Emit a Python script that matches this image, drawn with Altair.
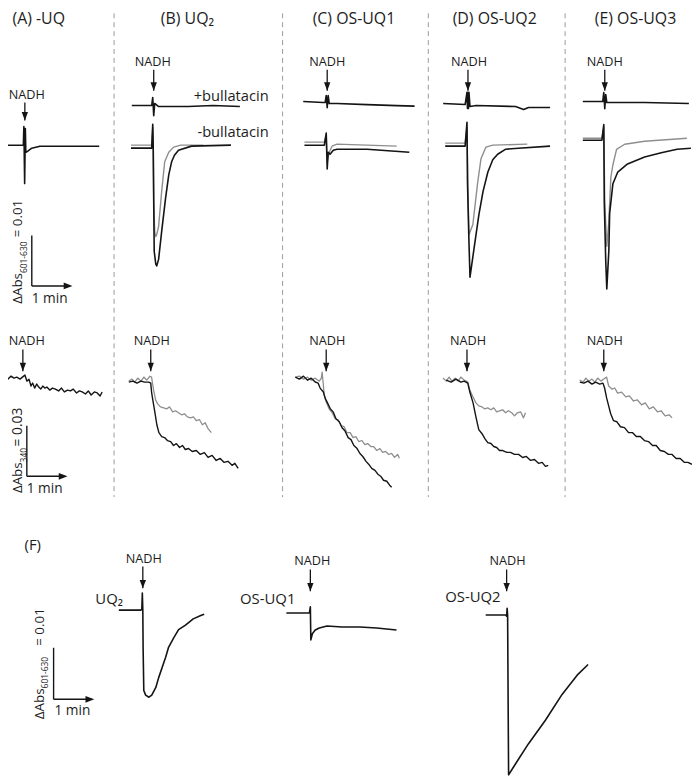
import altair as alt
import pandas as pd

# ------------------------------------------------------------------
# Kinetic traces.  t = time after NADH addition (min),
# v = change in absorbance (mAbs) relative to the pre-NADH baseline.
# ------------------------------------------------------------------
# Top row: dAbs(601-630)
A_top_t = [-0.61, -0.037, -0.024, -0.005, 0.012, 0.024, 0.073, 0.17, 0.37, 0.85, 1.83]
A_top_v = [0, 0, 3.7, -7.6, 3.3, -1.4, -1.2, -0.6, -0.2, -0.2, -0.2]

B_plus_t = [-0.54, -0.05, -0.024, 0.0, 0.024, 0.12, 0.85, 1.46, 2.12]
B_plus_v = [0, 0, 1.6, -2.0, 0.4, -0.2, -0.2, 0, -0.2]
B_minus_black_t = [-0.56, -0.05, -0.024, -0.012, 0.0, 0.012, 0.05, 0.073, 0.12, 0.195, 0.29, 0.37, 0.44, 0.51, 0.61, 0.93, 1.9]
B_minus_black_v = [0, 0, 4.7, 0, -10.6, -20.4, -22.9, -23.3, -22.0, -16.5, -10.0, -5.3, -2.7, -1.4, -0.4, 0.4, 0.6]
B_minus_gray_t = [-0.56, -0.05, -0.024, -0.012, 0.0, 0.024, 0.05, 0.073, 0.12, 0.195, 0.27, 0.37, 0.49, 0.66, 1.22]
B_minus_gray_v = [0.6, 0.6, 4.1, 0.6, -10.6, -16.5, -17.5, -17.1, -15.5, -8.6, -2.7, -0.8, 0.2, 0.6, 0.6]

C_plus_t = [-0.59, -0.1, -0.05, -0.024, 0.0, 0.024, 0.05, 0.24, 0.98, 1.71, 2.15]
C_plus_v = [0, -0.2, -0.2, 1.2, -1.2, 1.2, -0.4, -0.4, -0.6, -0.8, -0.9]
C_minus_black_t = [-0.56, -0.07, -0.024, 0.0, 0.024, 0.07, 0.15, 0.24, 0.98, 2.02]
C_minus_black_v = [0, 0, 2.4, -4.7, -1.4, -1.8, -1.0, -0.8, -0.8, -1.4]
C_minus_gray_t = [-0.56, -0.07, -0.024, 0.0, 0.05, 0.12, 0.24, 0.98, 1.71]
C_minus_gray_v = [0.6, 0.6, 2.0, -3.3, -1.4, -0.2, 0.2, 0, -0.2]

D_plus_t = [-0.61, -0.07, -0.024, -0.012, 0.0, 0.012, 0.024, 0.05, 0.2, 1.17, 1.37, 1.49, 2.02]
D_plus_v = [0.2, 0, 2.4, -0.8, 2.4, -0.8, 2.4, -0.4, -0.2, -0.4, -1.0, -0.6, -0.6]
D_minus_black_t = [-0.56, -0.07, -0.024, -0.012, 0.024, 0.05, 0.15, 0.27, 0.37, 0.49, 0.61, 0.73, 0.93, 1.24, 2.02]
D_minus_black_v = [0, 0, 4.7, -7.1, -18.8, -25.9, -20.2, -13.5, -9.0, -5.1, -2.7, -1.6, -0.6, -0.4, 0]
D_minus_gray_t = [-0.56, -0.07, -0.024, 0.0, 0.024, 0.12, 0.24, 0.32, 0.44, 0.61, 1.46]
D_minus_gray_v = [0.6, 0.6, 3.7, -9.0, -17.5, -15.5, -7.1, -2.5, -0.2, 0.2, 0.4]

E_plus_t = [-0.54, -0.05, -0.024, 0.0, 0.024, 0.05, 0.24, 0.98, 2.07]
E_plus_v = [0, 0, 1.8, -1.4, 1.4, -0.2, -0.2, -0.2, -0.4]
E_minus_black_t = [-0.54, -0.07, -0.024, -0.012, 0.024, 0.05, 0.1, 0.12, 0.2, 0.32, 0.56, 0.98, 1.39, 1.78, 2.12]
E_minus_black_v = [0, 0, 3.1, -12.2, -23.9, -29.4, -21.9, -14.5, -8.6, -6.3, -4.7, -3.3, -2.5, -1.8, -1.6]
E_minus_gray_t = [-0.54, -0.07, -0.024, 0.0, 0.05, 0.1, 0.15, 0.2, 0.29, 0.49, 0.98, 2.02]
E_minus_gray_v = [0.4, 0.4, 2.7, -12.2, -21.0, -16.1, -7.3, -4.9, -1.8, -0.8, -0.2, 0.4]

# Middle row: dAbs(340)
A_bot_t = [-0.51, -0.44, -0.37, -0.29, -0.22, -0.15, -0.07, 0.05, 0.1, 0.15, 0.2, 0.24, 0.29, 0.34, 0.39, 0.44,
           0.49, 0.54, 0.59, 0.66, 0.73, 0.8, 0.88, 0.95, 1.02, 1.1, 1.17, 1.24, 1.32, 1.39, 1.46, 1.54, 1.61,
           1.68, 1.76, 1.83, 1.9, 1.95]
A_bot_v = [0, 0.6, -0.6, 1.2, 0, 0.6, -0.6, 1.8, -1.8, -0.6, -4.7, -2.9, -5.9, -3.5, -5.3, -6.5,
           -4.7, -5.9, -5.3, -7.1, -5.9, -6.5, -7.6, -5.9, -8.2, -7.1, -7.6, -6.5, -8.8, -7.6, -8.2, -9.4, -7.6,
           -10.0, -8.2, -8.8, -10.6, -8.2]

B_bot_gray_t = [-0.54, -0.46, -0.39, -0.32, -0.24, -0.17, -0.1, -0.02, 0.02, 0.07, 0.12, 0.17, 0.24, 0.32, 0.39,
                0.46, 0.54, 0.61, 0.68, 0.76, 0.83, 0.9, 0.98, 1.05, 1.12, 1.2, 1.27, 1.34, 1.41, 1.49]
B_bot_gray_v = [0, 1.2, -0.6, 1.8, 0, 2.4, 0.6, 2.9, 2.4, -5.3, -11.2, -13.5, -15.3, -15.9, -16.5,
                -15.3, -18.2, -17.6, -18.8, -20.0, -19.4, -21.2, -21.8, -21.2, -23.5, -22.9, -25.9, -24.7, -28.2, -30.6]
B_bot_black_t = [-0.54, -0.44, -0.34, -0.24, -0.15, -0.05, 0, 0.02, 0.05, 0.1, 0.15, 0.2, 0.27, 0.34, 0.41, 0.49,
                 0.56, 0.63, 0.71, 0.78, 0.85, 0.93, 1.02, 1.12, 1.22, 1.32, 1.41, 1.51, 1.61, 1.71, 1.8, 1.9, 2.0, 2.07, 2.15]
B_bot_black_v = [-0.6, 0, -1.2, 0, -0.6, -0.6, -1.2, -6.5, -11.2, -18.2, -25.9, -30.6, -32.9, -33.5, -35.3, -35.9,
                 -38.2, -37.1, -39.4, -38.2, -40.6, -40.0, -41.8, -41.2, -43.5, -42.4, -45.3, -44.1, -47.1, -45.9,
                 -48.2, -47.6, -50.0, -48.8, -51.8]

C_bot_black_t = [-0.76, -0.66, -0.56, -0.46, -0.37, -0.27, -0.2, -0.15, -0.07, -0.02, 0.02, 0.1, 0.17, 0.24, 0.32,
                 0.39, 0.46, 0.54, 0.61, 0.68, 0.76, 0.83, 0.9, 0.98, 1.05, 1.12, 1.2, 1.27, 1.34, 1.41, 1.49, 1.56, 1.61]
C_bot_black_v = [0, -1.2, 0.6, -1.8, -0.6, -2.9, -3.5, -6.5, -8.8, -12.9, -14.7, -18.8, -20.6, -24.7, -26.5,
                 -30.0, -31.8, -35.9, -37.1, -40.6, -42.4, -45.3, -47.1, -50.0, -51.8, -54.1, -55.3, -57.6, -58.8,
                 -61.2, -61.8, -64.1, -65.3]
C_bot_gray_t = [-0.76, -0.66, -0.56, -0.46, -0.37, -0.27, -0.17, -0.12, -0.1, -0.07, -0.05, 0, 0.07, 0.15, 0.22,
                0.29, 0.37, 0.44, 0.51, 0.59, 0.66, 0.73, 0.8, 0.88, 0.95, 1.02, 1.1, 1.17, 1.24, 1.32, 1.39, 1.46,
                1.54, 1.61, 1.68, 1.76, 1.8]
C_bot_gray_v = [0, 0.6, -1.2, 0, -1.8, -0.6, -2.4, -0.6, 2.9, -4.7, -10.6, -14.7, -18.8, -21.2, -24.7,
                -25.3, -28.8, -29.4, -32.9, -32.9, -35.9, -35.3, -38.2, -37.6, -40.0, -39.4, -41.2, -41.2, -43.5,
                -42.4, -44.7, -44.1, -45.9, -45.3, -47.6, -45.9, -48.2]

D_bot_gray_t = [-0.59, -0.51, -0.44, -0.37, -0.29, -0.22, -0.15, -0.07, 0.02, 0.07, 0.15, 0.22, 0.29, 0.37, 0.44,
                0.51, 0.59, 0.66, 0.73, 0.8, 0.88, 0.95, 1.02, 1.1, 1.17, 1.24, 1.32, 1.39, 1.44]
D_bot_gray_v = [1.2, -0.6, 1.8, -0.6, 1.2, -0.6, 1.8, 0, -1.2, -5.9, -10.0, -13.5, -15.3, -15.9, -17.1,
                -16.5, -17.6, -16.5, -18.8, -18.2, -17.6, -19.4, -18.2, -19.4, -21.2, -19.4, -18.8, -22.4, -19.4]
D_bot_black_t = [-0.51, -0.39, -0.27, -0.15, -0.07, 0.02, 0.07, 0.15, 0.22, 0.29, 0.37, 0.44, 0.51, 0.59, 0.66,
                 0.73, 0.8, 0.88, 0.98, 1.07, 1.17, 1.27, 1.37, 1.46, 1.56, 1.66, 1.76, 1.85, 1.93, 2.0]
D_bot_black_v = [0, -1.2, 0.6, -1.2, -0.6, -1.8, -7.1, -13.5, -21.8, -29.4, -31.8, -34.7, -37.1, -37.6, -39.4,
                 -40.0, -41.8, -41.8, -42.9, -42.9, -44.1, -44.1, -45.9, -45.3, -47.6, -47.1, -49.4, -48.8, -51.2, -50.6]

E_bot_gray_t = [-0.59, -0.51, -0.44, -0.37, -0.29, -0.22, -0.15, -0.07, 0, 0.07, 0.12, 0.2, 0.27, 0.34, 0.44,
                0.54, 0.63, 0.73, 0.83, 0.93, 1.02, 1.12, 1.22, 1.32, 1.41, 1.51, 1.61, 1.68]
E_bot_gray_v = [0.6, -0.6, 1.8, 0, 1.2, -0.6, 1.8, 0, 1.2, 2.4, -2.9, -4.7, -4.1, -7.1, -6.5,
                -9.4, -8.8, -11.8, -11.2, -14.1, -12.9, -16.5, -15.3, -18.2, -17.6, -20.6, -20.0, -21.8]
E_bot_black_t = [-0.59, -0.49, -0.39, -0.29, -0.2, -0.1, -0.02, 0.02, 0.07, 0.12, 0.17, 0.24, 0.32, 0.41, 0.51,
                 0.61, 0.71, 0.8, 0.9, 1.0, 1.1, 1.2, 1.29, 1.39, 1.49, 1.59, 1.68, 1.78, 1.88, 1.98, 2.07, 2.17]
E_bot_black_v = [-0.6, -1.2, 0, -1.8, -0.6, -1.8, -1.2, -4.1, -10.0, -14.7, -19.4, -23.5, -24.1, -27.1, -27.6,
                 -30.6, -30.6, -32.9, -32.9, -35.3, -35.9, -38.2, -38.2, -41.2, -41.8, -43.5, -43.5, -45.9, -45.9,
                 -48.2, -48.2, -49.4]

# Panel F: dAbs(601-630), single traces
F_UQ2_t = [-0.59, -0.05, -0.024, -0.012, 0, 0.007, 0.024, 0.07, 0.15, 0.22, 0.32, 0.39, 0.49, 0.56, 0.63,
           0.76, 0.88, 1.05, 1.24, 1.44, 1.51]
F_UQ2_v = [0, 0, 0.2, 3.3, 0, -7.3, -15.6, -16.5, -16.9, -16.5, -15.0, -13.1, -10.8, -9.2, -7.3,
           -5.4, -3.8, -2.9, -1.7, -1.0, -0.8]
F_OSUQ1_t = [-0.59, -0.024, 0, 0.012, 0.05, 0.12, 0.22, 0.41, 0.78, 1.22, 1.63, 2.12]
F_OSUQ1_v = [0, 0, 1.2, -5.2, -4.0, -3.3, -2.9, -2.5, -2.7, -2.7, -2.9, -3.3]
F_OSUQ2_t = [-0.54, -0.05, -0.024, -0.012, 0, 0.012, 0.024, 0.2, 0.51, 0.93, 1.34, 1.73, 1.98]
F_OSUQ2_v = [0, 0, -0.2, 1.3, 0, -16.0, -31.0, -28.8, -25.0, -20.4, -15.4, -11.5, -9.6]

# ------------------------------------------------------------------
# Texts
# ------------------------------------------------------------------
HEADERS = ["(A) -UQ", "(B) UQ\u2082", "(C) OS-UQ1", "(D) OS-UQ2", "(E) OS-UQ3"]
F_LABELS = ["(F)", "UQ\u2082", "OS-UQ1", "OS-UQ2"]
BULL_LABELS = ["+bullatacin", "-bullatacin"]
SCALE_LABEL_PARTS = ["\u0394Abs", "601-630", "= 0.01", "\u0394Abs", "340", "= 0.03", "\u0394Abs", "601-630", "= 0.01"]

# ------------------------------------------------------------------
# Figure layout (page pixels)
# ------------------------------------------------------------------
X0, X1, Y0, Y1 = 8, 698, 8, 777
PX_PER_MIN = 41
PX_PER_MABS = {"top": 5.1, "bot": 1.7, "F": 5.2}
BLACK, GRAY, INK = "#141414", "#8e8e8e", "#1c1c1c"
FONT = "Open Sans"

ANCHOR = {  # (x of NADH addition, y of baseline)
    "A_top": (25, 143), "B_plus": (155, 103), "B_minus": (155, 146),
    "C_plus": (330, 99), "C_minus": (330, 143), "D_plus": (472, 102), "D_minus": (472, 144),
    "E_plus": (610, 99), "E_minus": (610, 138),
    "A_bot": (23, 378), "B_bot": (152, 381), "C_bot": (329, 377), "D_bot": (471, 380), "E_bot": (609, 381),
    "F1": (144, 612), "F2": (313, 615), "F3": (512, 617),
}

TRACES = [
    ("A_top", "top", "A_top", BLACK, A_top_t, A_top_v),
    ("B_plus", "top", "B_plus", BLACK, B_plus_t, B_plus_v),
    ("B_mg", "top", "B_minus", GRAY, B_minus_gray_t, B_minus_gray_v),
    ("B_mb", "top", "B_minus", BLACK, B_minus_black_t, B_minus_black_v),
    ("C_plus", "top", "C_plus", BLACK, C_plus_t, C_plus_v),
    ("C_mg", "top", "C_minus", GRAY, C_minus_gray_t, C_minus_gray_v),
    ("C_mb", "top", "C_minus", BLACK, C_minus_black_t, C_minus_black_v),
    ("D_plus", "top", "D_plus", BLACK, D_plus_t, D_plus_v),
    ("D_mg", "top", "D_minus", GRAY, D_minus_gray_t, D_minus_gray_v),
    ("D_mb", "top", "D_minus", BLACK, D_minus_black_t, D_minus_black_v),
    ("E_plus", "top", "E_plus", BLACK, E_plus_t, E_plus_v),
    ("E_mg", "top", "E_minus", GRAY, E_minus_gray_t, E_minus_gray_v),
    ("E_mb", "top", "E_minus", BLACK, E_minus_black_t, E_minus_black_v),
    ("A_bot", "bot", "A_bot", BLACK, A_bot_t, A_bot_v),
    ("B_bg", "bot", "B_bot", GRAY, B_bot_gray_t, B_bot_gray_v),
    ("B_bb", "bot", "B_bot", BLACK, B_bot_black_t, B_bot_black_v),
    ("C_bg", "bot", "C_bot", GRAY, C_bot_gray_t, C_bot_gray_v),
    ("C_bb", "bot", "C_bot", BLACK, C_bot_black_t, C_bot_black_v),
    ("D_bg", "bot", "D_bot", GRAY, D_bot_gray_t, D_bot_gray_v),
    ("D_bb", "bot", "D_bot", BLACK, D_bot_black_t, D_bot_black_v),
    ("E_bg", "bot", "E_bot", GRAY, E_bot_gray_t, E_bot_gray_v),
    ("E_bb", "bot", "E_bot", BLACK, E_bot_black_t, E_bot_black_v),
    ("F1", "F", "F1", BLACK, F_UQ2_t, F_UQ2_v),
    ("F2", "F", "F2", BLACK, F_OSUQ1_t, F_OSUQ1_v),
    ("F3", "F", "F3", BLACK, F_OSUQ2_t, F_OSUQ2_v),
]

rows = []
for tid, grp, anc, col, ts, vs in TRACES:
    ax, ay = ANCHOR[anc]
    for i, (t, v) in enumerate(zip(ts, vs)):
        rows.append({"id": tid, "i": i, "color": col, "grp": grp,
                     "x": ax + t * PX_PER_MIN, "y": ay - v * PX_PER_MABS[grp]})
trace_df = pd.DataFrame(rows)

XS = alt.Scale(domain=[X0, X1], nice=False, zero=False)
YS = alt.Scale(domain=[Y0, Y1], nice=False, zero=False, reverse=True)


def xq(f="x"):
    return alt.X(f"{f}:Q", scale=XS, axis=None)


def yq(f="y"):
    return alt.Y(f"{f}:Q", scale=YS, axis=None)


def line_layer(color, noisy, width):
    d = trace_df[(trace_df["color"] == color) & ((trace_df["grp"] == "bot") == noisy)]
    return alt.Chart(d).mark_line(strokeWidth=width, color=color, strokeJoin="round").encode(
        x=xq(), y=yq(), detail="id:N", order="i:Q")


layers_traces = [line_layer(GRAY, False, 1.4), line_layer(GRAY, True, 1.3),
                 line_layer(BLACK, False, 1.6), line_layer(BLACK, True, 1.4)]

# dashed separators between panels A-E
sep_df = pd.DataFrame({"x": [115, 285, 432, 570], "y": [10] * 4, "y2": [498] * 4})
seps = alt.Chart(sep_df).mark_rule(color="#9a9a9a", strokeWidth=1, strokeDash=[5, 4]).encode(
    x=xq(), y=yq(), y2="y2:Q")

# NADH arrows (x, label y, tip)
NADH_X = [25, 155, 330, 472, 610, 23, 152, 329, 471, 609, 144, 313, 511]
NADH_TEXT_X = [27, 154, 330, 473, 610, 27, 153, 330, 472, 610, 145, 315, 512]
NADH_LABEL_Y = [92, 59, 59, 59, 59, 341, 341, 341, 341, 341, 560, 563, 563]
NADH_TIP_Y = [118, 88, 88, 88, 88, 371, 371, 371, 371, 371, 590, 593, 593]
arr_df = pd.DataFrame({"x": NADH_X, "tx": NADH_TEXT_X, "y": [ly + 8 for ly in NADH_LABEL_Y],
                       "y2": NADH_TIP_Y, "label": ["NADH"] * len(NADH_X), "ly": NADH_LABEL_Y})
shafts = alt.Chart(arr_df).mark_rule(color=BLACK, strokeWidth=1.3).encode(x=xq(), y=yq(), y2="y2:Q")
heads = alt.Chart(arr_df).mark_point(shape="M-0.8,-2.1L0.8,-2.1L0,0Z", size=64, filled=True,
                                     color=BLACK, opacity=1).encode(x=xq(), y=yq("y2"))
nadh_text = alt.Chart(arr_df).mark_text(font=FONT, fontSize=12.8, color=INK, baseline="middle").encode(
    x=xq("tx"), y=yq("ly"), text="label:N")

# scale bars: corner position, group, vertical size (mAbs); horizontal = 1 min
SB_X = [32, 27, 54]
SB_Y = [285, 477, 702]
SB_GRP = ["top", "bot", "F"]
SB_MABS = [10, 30, 10]
sb_rows = []
for x, y, g, m in zip(SB_X, SB_Y, SB_GRP, SB_MABS):
    sb_rows.append({"x": x, "y": y, "x2": x, "y2": y - m * PX_PER_MABS[g]})
    sb_rows.append({"x": x, "y": y, "x2": x + PX_PER_MIN - 5, "y2": y})
sb_df = pd.DataFrame(sb_rows)
sbars = alt.Chart(sb_df).mark_rule(color=BLACK, strokeWidth=1.4).encode(
    x=xq(), y=yq(), x2="x2:Q", y2="y2:Q")
sb_head_df = pd.DataFrame({"x": [x + PX_PER_MIN for x in SB_X], "y": SB_Y})
sb_heads = alt.Chart(sb_head_df).mark_point(shape="M0,0L-2.2,-0.85L-2.2,0.85Z", size=64, filled=True,
                                            color=BLACK, opacity=1).encode(x=xq(), y=yq())

# plain centred texts
ctext_df = pd.DataFrame({
    "text": HEADERS + ["1 min", "1 min", "1 min"] + F_LABELS,
    "x": [39, 189, 357, 499, 641, 50, 45, 73, 33, 110, 270, 477],
    "y": [16, 16, 16, 16, 16, 298, 490, 714, 546, 601, 601, 599],
    "size": [16] * 5 + [13.8] * 3 + [15] * 4,
})
ctexts = alt.Chart(ctext_df).mark_text(font=FONT, color=INK, baseline="middle").encode(
    x=xq(), y=yq(), text="text:N", size=alt.Size("size:Q", scale=None))

rtext_df = pd.DataFrame({"text": BULL_LABELS, "x": [271, 271], "y": [94, 131]})
rtexts = alt.Chart(rtext_df).mark_text(font=FONT, fontSize=14.8, color=INK, align="right",
                                       baseline="middle").encode(x=xq(), y=yq(), text="text:N")

# rotated y scale-bar labels (angle 270, reading upward)
vt_df = pd.DataFrame({
    "text": SCALE_LABEL_PARTS,
    "x": [18.5, 24, 18.5, 18.5, 24, 18.5, 40, 45.5, 40],
    "y": [303, 272, 236, 494, 463, 447, 722, 691, 648],
    "size": [13.5, 8.5, 13.5, 13.5, 8.5, 14, 13.5, 8.5, 13.5],
})
vtexts = alt.Chart(vt_df).mark_text(font=FONT, color=INK, align="left", baseline="middle",
                                    angle=270).encode(x=xq(), y=yq(), text="text:N",
                                                      size=alt.Size("size:Q", scale=None))

chart = alt.layer(seps, *layers_traces, shafts, heads, nadh_text, sbars, sb_heads,
                  ctexts, rtexts, vtexts).properties(
    width=X1 - X0, height=Y1 - Y0, padding=0, autosize=alt.AutoSizeParams(type="none"),
    background="white").configure_view(stroke=None)

chart.save("out.html", embed_options={"renderer": "svg", "actions": False})
